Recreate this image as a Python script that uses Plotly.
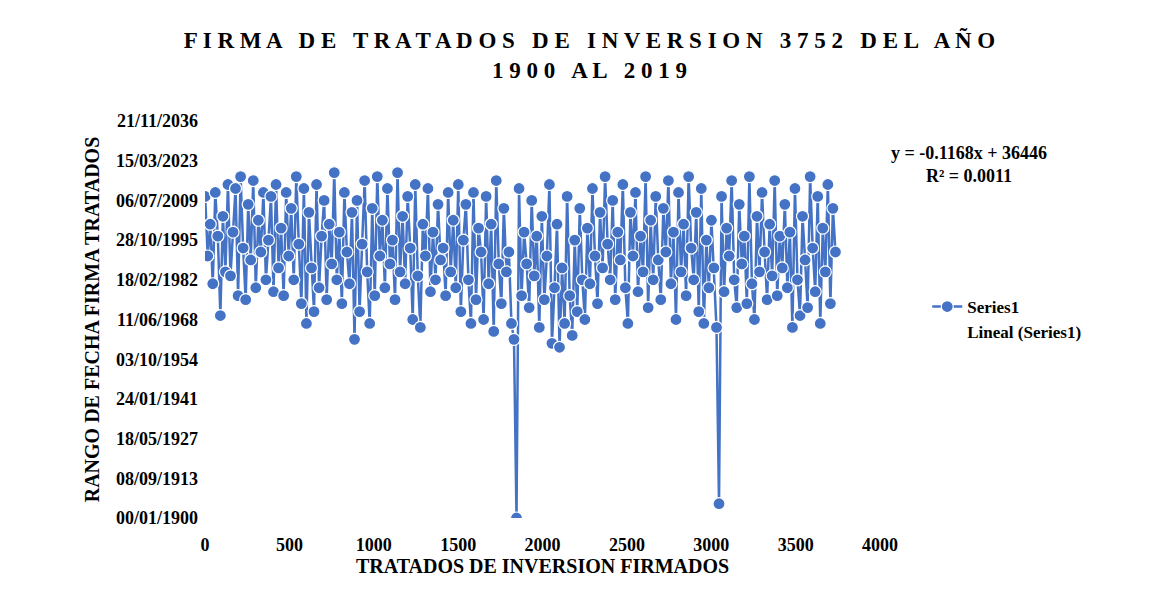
import plotly.graph_objects as go

# sampled treaty numbers (every 15th treaty) and their signing date as excel day serial
treaty_no = list(range(1, 3752, 15))
fecha_serial = [
    40500, 33000, 37000, 29500, 41000, 35500, 25500, 38000, 31000, 42000,
    30500, 36000, 41500, 28000, 43000, 34000, 27500, 39500, 32500, 42500,
    29000, 37500, 33500, 41000, 30000, 35000, 40500, 28500, 42000, 31500,
    36500, 28000, 41000, 33000, 39000, 30000, 43000, 34500, 27000, 41500,
    24500, 38500, 31500, 26000, 42000, 29000, 35500, 40000, 27500, 37000,
    32000, 43500, 30000, 36000, 27000, 41000, 33500, 29500, 38500, 22500,
    40000, 26000, 34500, 42500, 31000, 24500, 39000, 28000, 43000, 33000,
    37500, 29000, 41500, 32000, 35000, 27500, 43500, 31000, 38000, 29500,
    40500, 34000, 25000, 42000, 30500, 24000, 37000, 33000, 41500, 28500,
    36000, 30000, 39500, 32500, 34000, 28000, 41000, 31000, 37500, 29000,
    42000, 26000, 35000, 39500, 30000, 24500, 41000, 27500, 36500, 33500,
    25000, 40500, 29500, 37000, 23500, 42500, 32000, 27000, 39000, 31000,
    33500, 24500, 22500, 0, 41500, 28000, 36000, 32000, 26500, 40000,
    30500, 35500, 24000, 38000, 27500, 33000, 42000, 22000, 29000, 37000,
    21500, 31500, 24500, 40500, 28000, 23000, 35000, 26000, 39000, 30000,
    25000, 36500, 29500, 41500, 33000, 27000, 38500, 31500, 43000, 34500,
    30000, 40000, 27500, 36000, 32500, 42000, 29000, 24500, 38500, 33000,
    41000, 28500, 35500, 31000, 43000, 26500, 37500, 30000, 40500, 32500,
    27500, 39000, 33500, 42500, 29500, 36000, 25000, 41000, 31000, 37000,
    28000, 43000, 34000, 30000, 38500, 26000, 41500, 24500, 35000, 29000,
    37500, 31500, 24000, 1800, 40500, 28500, 36500, 33000, 42500, 30000,
    26500, 39500, 32000, 35500, 27000, 43000, 29500, 25000, 38000, 31000,
    41000, 33500, 27500, 37000, 30500, 42500, 28000, 35500, 31500, 39500,
    29000, 36000, 24000, 41500, 30000, 25500, 38000, 32500, 26500, 43000,
    34000, 28500, 40500, 24500, 36500, 31000, 42000, 27000, 39000, 33500,
]
y_tickvals = [0, 5000, 10000, 15000, 20000, 25000, 30000, 35000, 40000, 45000, 50000]
y_ticktext = ['00/01/1900', '08/09/1913', '18/05/1927', '24/01/1941', '03/10/1954', '11/06/1968',
              '18/02/1982', '28/10/1995', '06/07/2009', '15/03/2023', '21/11/2036']
# excel linear trendline shown on the chart
slope, intercept = -0.1168, 36446
trend_x = [0, 3752]

serif = 'Liberation Serif'
blue = '#4472C4'

fig = go.Figure()
fig.add_trace(go.Scatter(x=treaty_no, y=fecha_serial, mode='lines+markers', name='Series1',
                         line=dict(color=blue, width=2.5),
                         marker=dict(color=blue, size=12, line=dict(color='white', width=1.2))))
fig.add_trace(go.Scatter(x=trend_x, y=[intercept + slope * v for v in trend_x], mode='lines',
                         name='Lineal (Series1)', line=dict(color='rgba(0,0,0,0)', width=1)))

fig.update_layout(
    width=1163, height=614,
    paper_bgcolor='white', plot_bgcolor='white',
    font=dict(family=serif, color='black', size=18, weight='bold'),
    title=dict(text='F I R M A   D E   T R A T A D O S   D E   I N V E R S I O N   3 7 5 2   D E L   A Ñ O<br>1 9 0 0   A L   2 0 1 9',
               x=0.5, xanchor='center', y=0.935, font=dict(size=23, family=serif, weight='bold')),
    margin=dict(l=197, r=291, t=113, b=104),
    xaxis=dict(range=[0, 4000], dtick=500, showgrid=False, zeroline=False, showline=False, ticks='',
               ticklabelstandoff=14, automargin=False,
               title=dict(text='TRATADOS DE INVERSION FIRMADOS', font=dict(size=20), standoff=4),
               tickfont=dict(size=18)),
    yaxis=dict(range=[0, 50000], tickvals=y_tickvals, ticktext=y_ticktext, showgrid=False, zeroline=False,
               showline=False, ticks='', tickfont=dict(size=18), automargin=False, ticklabelstandoff=6,
               title=dict(text='RANGO DE FECHA FIRMA TRATADOS', font=dict(size=20), standoff=10)),
    legend=dict(x=1.07, y=0.5, xanchor='left', yanchor='middle', font=dict(size=17),
                bgcolor='rgba(0,0,0,0)', tracegroupgap=14),
    annotations=[dict(text='y = -0.1168x + 36446<br>R² = 0.0011', xref='paper', yref='paper',
                      x=1.25, y=0.95, showarrow=False, align='center', font=dict(size=18))],
)

fig.write_html('out.html')
